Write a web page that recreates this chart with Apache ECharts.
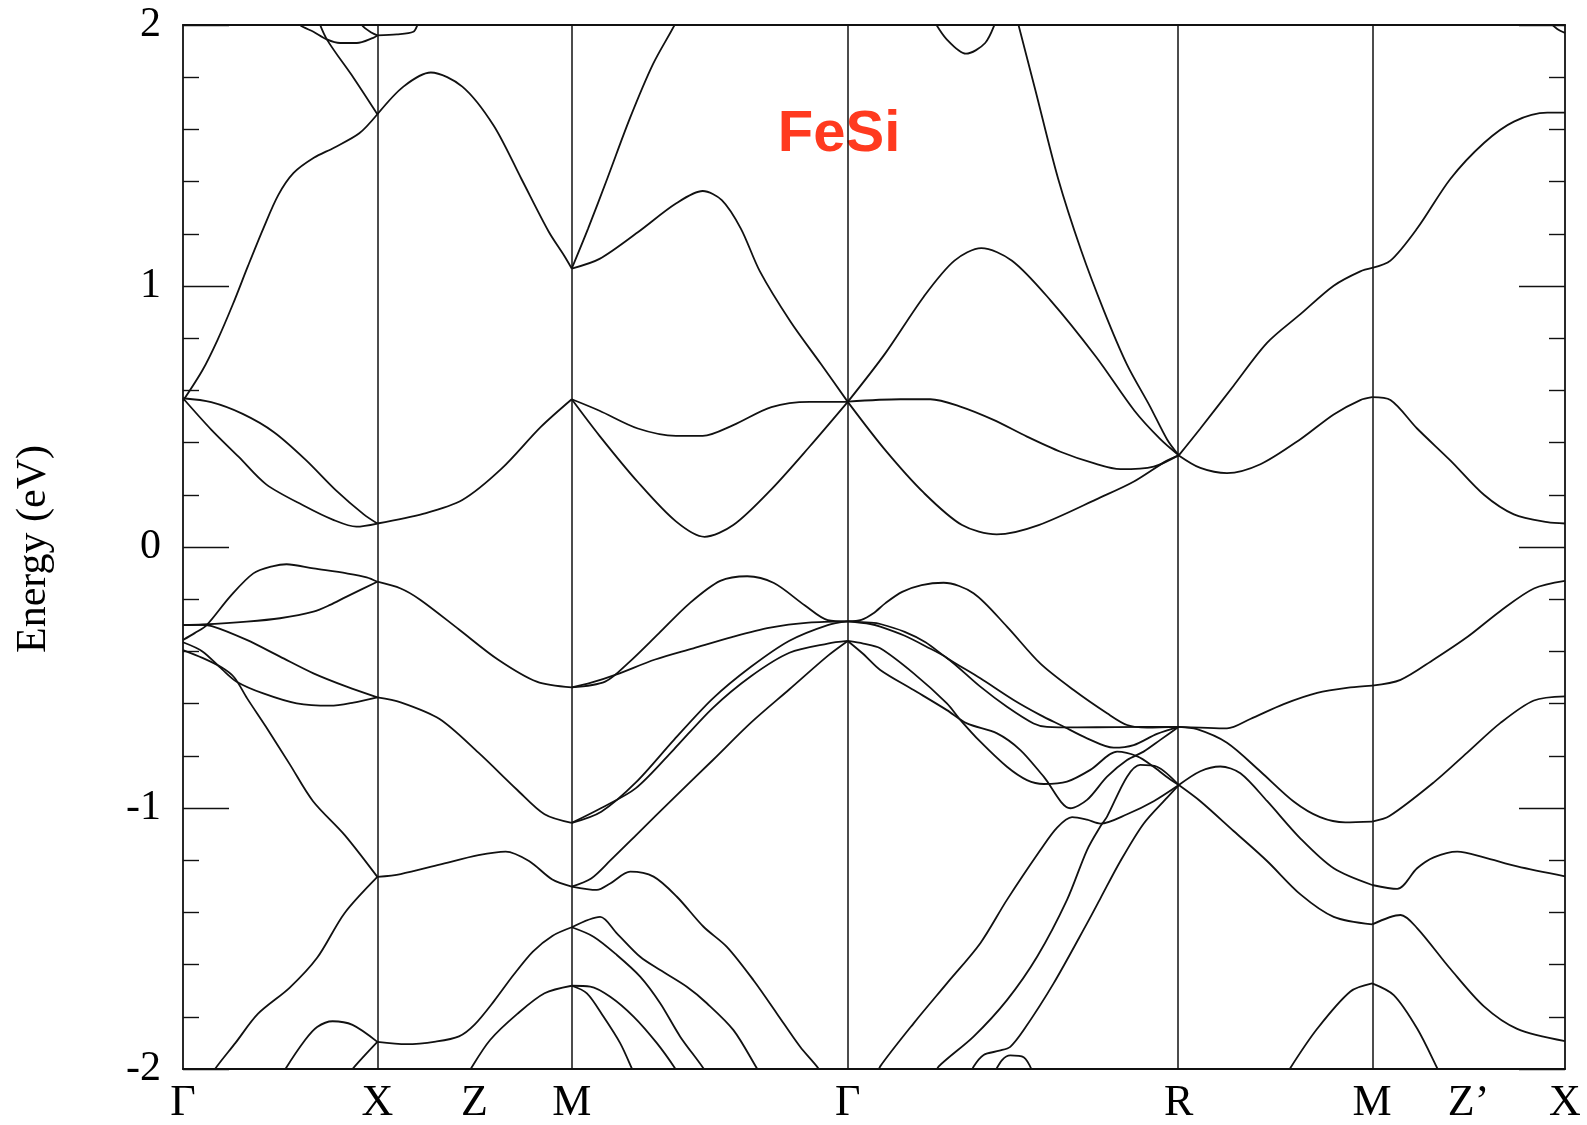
<!DOCTYPE html>
<html>
<head>
<meta charset="utf-8">
<title>FeSi band structure</title>
<script src="https://cdn.jsdelivr.net/npm/echarts@6/dist/echarts.min.js"></script>
<style>
  html, body { margin: 0; padding: 0; background: #fff; }
  #chart { width: 1587px; height: 1125px; }
</style>
</head>
<body>
<div id="chart"></div>
<script>
// High-symmetry points along the k-path (distance in units of 2π/a)
const kPoints = [0, 1.0, 2.0, 3.42, 5.123, 6.118, 7.11];
const kLabelPositions = [0, 1.0, 1.5, 2.0, 3.42, 5.123, 6.118, 6.614, 7.11];
const kLabels = ['Γ', 'X', 'Z', 'M', 'Γ', 'R', 'M', 'Z’', 'X'];
const energyTicks = [-2, -1, 0, 1, 2];

// ---- Γ → X ----
const gxT1 = [[0,0.56],[0.1,0.677],[0.178,0.794],[0.256,0.929],[0.334,1.076],[0.413,1.22],[0.49,1.348],[0.569,1.433],[0.673,1.491],[0.777,1.53],[0.907,1.585],[1.0,1.658]];
const gxTopA = [[0.58,2.03],[0.602,2.0],[0.671,1.974],[0.74,1.945],[0.808,1.931],[0.894,1.931],[0.979,1.951],[1.0,1.96]];
const gxTopB = [[0.90,2.04],[0.92,2.0],[0.971,1.97],[1.0,1.96]];
const gxTopC = [[0.69,2.03],[0.74,1.945],[0.877,1.798],[1.0,1.658]];
const gxC1 = [[0,0.57],[0.145,0.555],[0.307,0.51],[0.468,0.44],[0.63,0.335],[0.79,0.215],[0.93,0.125],[1.0,0.09]];
const gxC2 = [[0,0.57],[0.145,0.45],[0.287,0.345],[0.428,0.24],[0.63,0.155],[0.77,0.105],[0.892,0.078],[1.0,0.09]];
const gxV1 = [[0,-0.356],[0.06,-0.33],[0.122,-0.299],[0.242,-0.19],[0.362,-0.101],[0.465,-0.073],[0.533,-0.066],[0.671,-0.082],[0.842,-0.101],[0.945,-0.116],[1.0,-0.133]];
const gxV2 = [[0,-0.299],[0.1,-0.297],[0.328,-0.286],[0.499,-0.273],[0.671,-0.248],[0.757,-0.222],[0.842,-0.19],[1.0,-0.133]];
const gxV3 = [[0,-0.299],[0.07,-0.298],[0.148,-0.303],[0.328,-0.356],[0.499,-0.42],[0.671,-0.484],[0.842,-0.535],[1.0,-0.576]];
const gxV4 = [[0,-0.365],[0.1,-0.40],[0.2,-0.468],[0.276,-0.516],[0.413,-0.561],[0.585,-0.599],[0.757,-0.608],[0.877,-0.596],[1.0,-0.576]];
const gxV5 = [[0,-0.395],[0.1,-0.425],[0.2,-0.462],[0.264,-0.5],[0.33,-0.58],[0.426,-0.688],[0.548,-0.831],[0.669,-0.974],[0.831,-1.103],[1.0,-1.264]];
const gxV6 = [[0.15,-2.03],[0.162,-2.003],[0.27,-1.9],[0.385,-1.789],[0.548,-1.689],[0.69,-1.574],[0.831,-1.403],[1.0,-1.264]];
const gxV7 = [[0.51,-2.03],[0.527,-2.0],[0.628,-1.889],[0.69,-1.839],[0.77,-1.817],[0.872,-1.831],[1.0,-1.896]];
const gxV8 = [[0.86,-2.02],[0.872,-2.0],[1.0,-1.896]];

// ---- X → M ----
const xmU1 = [[1.0,1.658],[1.134,1.764],[1.275,1.818],[1.437,1.764],[1.598,1.615],[1.74,1.412],[1.881,1.209],[1.962,1.115],[2.0,1.067]];
const xmTop = [[1.0,1.96],[1.1,1.964],[1.185,1.974],[1.206,2.0],[1.22,2.03]];
const xmC = [[1.0,0.09],[1.235,0.127],[1.437,0.18],[1.639,0.3],[1.841,0.46],[2.0,0.566]];
const xmV1 = [[1.0,-0.133],[1.12,-0.159],[1.22,-0.202],[1.42,-0.316],[1.62,-0.431],[1.82,-0.516],[2.0,-0.538]];
const xmV2 = [[1.0,-0.576],[1.12,-0.595],[1.32,-0.659],[1.52,-0.788],[1.72,-0.931],[1.86,-1.024],[2.0,-1.057]];
const xmV3 = [[1.0,-1.264],[1.12,-1.253],[1.32,-1.217],[1.52,-1.181],[1.66,-1.167],[1.78,-1.203],[1.9,-1.274],[2.0,-1.301]];
const xmV4 = [[1.0,-1.896],[1.15,-1.905],[1.3,-1.895],[1.42,-1.875],[1.5,-1.83],[1.6,-1.74],[1.7,-1.64],[1.8,-1.55],[1.9,-1.49],[2.0,-1.457]];
const xmV5 = [[1.47,-2.02],[1.48,-2.0],[1.58,-1.889],[1.72,-1.789],[1.86,-1.71],[2.0,-1.681]];

// ---- M → Γ ----
const mgU1 = [[2.0,1.067],[2.143,1.104],[2.34,1.206],[2.536,1.316],[2.674,1.364],[2.772,1.329],[2.87,1.22],[2.968,1.056],[3.125,0.864],[3.283,0.7],[3.42,0.556]];
const mgU2 = [[2.0,1.067],[2.084,1.22],[2.183,1.412],[2.3,1.644],[2.418,1.85],[2.536,2.01],[2.56,2.06]];
const mgC1 = [[2.0,0.566],[2.143,0.522],[2.34,0.454],[2.536,0.426],[2.674,0.426],[2.831,0.467],[3.027,0.536],[3.224,0.556],[3.42,0.556]];
const mgC2 = [[2.0,0.566],[2.143,0.426],[2.34,0.249],[2.536,0.098],[2.683,0.039],[2.831,0.084],[3.027,0.221],[3.224,0.385],[3.42,0.556]];
const mgV1 = [[2.0,-0.538],[2.172,-0.516],[2.29,-0.445],[2.448,-0.331],[2.606,-0.216],[2.764,-0.13],[2.903,-0.112],[3.04,-0.138],[3.198,-0.223],[3.317,-0.28],[3.42,-0.285]];
const mgV2 = [[2.0,-0.538],[2.1,-0.52],[2.231,-0.488],[2.429,-0.431],[2.626,-0.388],[2.824,-0.345],[3.021,-0.309],[3.218,-0.29],[3.42,-0.285]];
const mgV3 = [[2.0,-1.057],[2.152,-1.014],[2.33,-0.902],[2.527,-0.738],[2.725,-0.581],[2.922,-0.459],[3.12,-0.359],[3.317,-0.299],[3.42,-0.285]];
const mgV4 = [[2.0,-1.057],[2.152,-1.0],[2.33,-0.924],[2.527,-0.774],[2.725,-0.617],[2.922,-0.495],[3.12,-0.405],[3.317,-0.37],[3.42,-0.36]];
const mgV5 = [[2.0,-1.301],[2.1,-1.27],[2.2,-1.2],[2.33,-1.105],[2.527,-0.96],[2.725,-0.817],[2.922,-0.673],[3.12,-0.545],[3.317,-0.417],[3.42,-0.36]];
const mgV6 = [[2.0,-1.301],[2.129,-1.314],[2.198,-1.289],[2.301,-1.244],[2.421,-1.263],[2.541,-1.34],[2.678,-1.455],[2.798,-1.532],[2.935,-1.66],[3.055,-1.787],[3.175,-1.915],[3.269,-1.998],[3.28,-2.02]];
const mgV7 = [[2.0,-1.457],[2.146,-1.417],[2.232,-1.48],[2.352,-1.57],[2.455,-1.621],[2.592,-1.685],[2.695,-1.748],[2.832,-1.851],[2.953,-1.998],[2.97,-2.02]];
const mgV8 = [[2.0,-1.457],[2.112,-1.493],[2.232,-1.563],[2.352,-1.646],[2.455,-1.748],[2.558,-1.876],[2.678,-1.998],[2.69,-2.02]];
const mgV9 = [[2.0,-1.681],[2.095,-1.684],[2.198,-1.723],[2.318,-1.799],[2.438,-1.901],[2.532,-1.998],[2.545,-2.02]];
const mgV10 = [[2.0,-1.681],[2.078,-1.71],[2.163,-1.799],[2.249,-1.901],[2.309,-1.998],[2.32,-2.02]];

// ---- Γ → R ----
const grU1 = [[3.42,0.556],[3.612,0.741],[3.812,0.96],[3.969,1.097],[4.107,1.145],[4.265,1.097],[4.462,0.946],[4.698,0.728],[4.895,0.522],[5.028,0.413],[5.123,0.351]];
const grU2 = [[3.42,0.557],[3.69,0.566],[3.845,0.566],[3.999,0.538],[4.17,0.487],[4.342,0.423],[4.514,0.365],[4.685,0.321],[4.823,0.298],[4.994,0.308],[5.123,0.352]];
const grU3 = [[3.42,0.556],[3.612,0.372],[3.812,0.207],[4.008,0.084],[4.186,0.048],[4.402,0.084],[4.72,0.19],[4.89,0.25],[5.06,0.33],[5.123,0.351]];
const grU4 = [[4.29,2.03],[4.295,2.01],[4.384,1.754],[4.502,1.412],[4.62,1.138],[4.738,0.905],[4.856,0.70],[4.974,0.54],[5.063,0.412],[5.123,0.351]];
const grTop = [[3.85,2.04],[3.86,2.02],[3.929,1.945],[4.028,1.89],[4.127,1.931],[4.186,2.02],[4.195,2.04]];
const grV1 = [[3.42,-0.285],[3.49,-0.279],[3.55,-0.255],[3.614,-0.215],[3.70,-0.172],[3.80,-0.146],[3.913,-0.137],[4.067,-0.177],[4.239,-0.305],[4.41,-0.446],[4.582,-0.548],[4.754,-0.637],[4.857,-0.682],[4.96,-0.692],[5.123,-0.689]];
const grV2 = [[3.42,-0.285],[3.536,-0.29],[3.587,-0.295],[3.713,-0.325],[3.82,-0.365],[3.93,-0.425],[4.102,-0.503],[4.273,-0.586],[4.411,-0.644],[4.522,-0.685],[4.651,-0.733],[4.788,-0.769],[4.891,-0.759],[5.011,-0.716],[5.123,-0.689]];
const grV3 = [[3.42,-0.285],[3.536,-0.295],[3.587,-0.305],[3.713,-0.34],[3.82,-0.38],[3.93,-0.425],[4.102,-0.535],[4.239,-0.612],[4.376,-0.676],[4.445,-0.689],[4.6,-0.691],[4.8,-0.69],[5.123,-0.689]];
const grV4 = [[3.42,-0.36],[3.5,-0.37],[3.587,-0.388],[3.759,-0.484],[3.93,-0.599],[4.0,-0.663],[4.102,-0.746],[4.239,-0.842],[4.342,-0.893],[4.428,-0.908],[4.548,-0.899],[4.668,-0.854],[4.806,-0.784],[4.91,-0.802],[4.99,-0.84],[5.06,-0.88],[5.123,-0.912]];
const grV5 = [[3.42,-0.36],[3.5,-0.41],[3.587,-0.471],[3.759,-0.548],[3.93,-0.625],[4.033,-0.676],[4.188,-0.714],[4.308,-0.778],[4.428,-0.88],[4.565,-1.001],[4.651,-0.969],[4.754,-0.88],[4.857,-0.816],[4.942,-0.784],[5.028,-0.739],[5.123,-0.689]];
const grV6 = [[3.575,-2.02],[3.587,-1.99],[3.759,-1.825],[3.93,-1.672],[4.102,-1.518],[4.239,-1.352],[4.411,-1.161],[4.497,-1.075],[4.574,-1.035],[4.651,-1.045],[4.72,-1.06],[4.857,-1.024],[4.994,-0.974],[5.123,-0.912]];
const grV7 = [[3.875,-2.02],[3.887,-1.991],[4.067,-1.876],[4.239,-1.736],[4.394,-1.57],[4.548,-1.352],[4.651,-1.161],[4.72,-1.07],[4.754,-1.033],[4.857,-0.88],[4.925,-0.835],[5.011,-0.842],[5.123,-0.912]];
const grV8 = [[4.055,-2.02],[4.067,-1.991],[4.119,-1.946],[4.2,-1.93],[4.256,-1.915],[4.325,-1.851],[4.479,-1.672],[4.651,-1.442],[4.72,-1.346],[4.823,-1.203],[4.942,-1.06],[5.063,-0.96],[5.123,-0.912]];
const grV9 = [[4.17,-2.02],[4.215,-1.965],[4.256,-1.948],[4.325,-1.955],[4.376,-2.02]];

// ---- R → M ----
const rmU1 = [[5.123,0.351],[5.234,0.303],[5.371,0.283],[5.543,0.317],[5.749,0.413],[5.92,0.508],[6.057,0.563],[6.118,0.574]];
const rmU2 = [[5.123,0.351],[5.234,0.454],[5.405,0.618],[5.577,0.782],[5.749,0.892],[5.92,1.001],[6.057,1.056],[6.118,1.069]];
const rmV1 = [[5.123,-0.689],[5.234,-0.692],[5.371,-0.695],[5.491,-0.659],[5.663,-0.602],[5.835,-0.559],[6.006,-0.538],[6.118,-0.531]];
const rmV2 = [[5.123,-0.689],[5.217,-0.698],[5.371,-0.75],[5.543,-0.86],[5.714,-0.975],[5.85,-1.035],[5.98,-1.055],[6.118,-1.052]];
const rmV3 = [[5.123,-0.912],[5.234,-0.859],[5.337,-0.841],[5.44,-0.867],[5.578,-0.974],[5.749,-1.117],[5.92,-1.231],[6.118,-1.295]];
const rmV4 = [[5.123,-0.912],[5.234,-0.974],[5.405,-1.088],[5.577,-1.203],[5.749,-1.331],[5.92,-1.417],[6.118,-1.446]];
const rmV5 = [[5.685,-2.02],[5.697,-1.996],[5.835,-1.846],[6.006,-1.703],[6.118,-1.672]];

// ---- M → X ----
const mxU1 = [[6.118,1.069],[6.212,1.097],[6.349,1.22],[6.521,1.411],[6.693,1.548],[6.847,1.63],[7.019,1.664],[7.11,1.664]];
const mxC = [[6.118,0.574],[6.212,0.563],[6.349,0.454],[6.521,0.331],[6.693,0.2],[6.847,0.125],[7.019,0.095],[7.11,0.09]];
const mxV1 = [[6.118,-0.531],[6.264,-0.509],[6.435,-0.431],[6.607,-0.345],[6.778,-0.245],[6.95,-0.159],[7.11,-0.13]];
const mxV2 = [[6.118,-1.052],[6.207,-1.031],[6.435,-0.902],[6.607,-0.788],[6.778,-0.674],[6.95,-0.588],[7.11,-0.572]];
const mxV3 = [[6.118,-1.295],[6.247,-1.31],[6.349,-1.231],[6.435,-1.189],[6.556,-1.167],[6.693,-1.189],[6.864,-1.224],[7.11,-1.262]];
const mxV4 = [[6.118,-1.446],[6.264,-1.41],[6.349,-1.46],[6.521,-1.617],[6.693,-1.76],[6.864,-1.846],[7.11,-1.893]];
const mxV5 = [[6.118,-1.672],[6.229,-1.717],[6.35,-1.846],[6.452,-1.996],[6.465,-2.02]];
const mxTop = [[7.01,2.04],[7.02,2.02],[7.07,1.985],[7.11,1.97]];

const bands = [
  gxT1, gxTopA, gxTopB, gxTopC, gxC1, gxC2, gxV1, gxV2, gxV3, gxV4, gxV5, gxV6, gxV7, gxV8,
  xmU1, xmTop, xmC, xmV1, xmV2, xmV3, xmV4, xmV5,
  mgU1, mgU2, mgC1, mgC2, mgV1, mgV2, mgV3, mgV4, mgV5, mgV6, mgV7, mgV8, mgV9, mgV10,
  grU1, grU2, grU3, grU4, grTop, grV1, grV2, grV3, grV4, grV5, grV6, grV7, grV8, grV9,
  rmU1, rmU2, rmV1, rmV2, rmV3, rmV4, rmV5,
  mxU1, mxC, mxV1, mxV2, mxV3, mxV4, mxV5, mxTop
];

const serif = '"Liberation Serif", "DejaVu Serif", "Times New Roman", serif';
const ink = '#111';

const chart = echarts.init(document.getElementById('chart'), null, { renderer: 'canvas' });

const bandSeries = bands.map(function (d) {
  return {
    type: 'line',
    data: d,
    smooth: 0.3,
    symbol: 'none',
    silent: true,
    clip: true,
    lineStyle: { color: ink, width: 1.8 }
  };
});

// vertical guides at the interior high-symmetry points
bandSeries.push({
  type: 'line',
  data: [],
  silent: true,
  markLine: {
    silent: true,
    symbol: ['none', 'none'],
    label: { show: false },
    lineStyle: { color: ink, type: 'solid', width: 1.5 },
    data: kPoints.slice(1, -1).map(function (k) { return { xAxis: k }; })
  }
});

function kLabel(v) {
  for (let i = 0; i < kLabelPositions.length; i++) {
    if (Math.abs(kLabelPositions[i] - v) < 1e-6) return kLabels[i];
  }
  return '';
}

// energy axis on either side of the frame, ticks pointing inward
function energyAxis(side, withLabels) {
  return {
    type: 'value',
    position: side,
    offset: 0,
    min: energyTicks[0],
    max: energyTicks[energyTicks.length - 1],
    interval: 1,
    splitLine: { show: false },
    axisLine: { show: true, onZero: false, lineStyle: { color: ink, width: 1.8 } },
    axisTick: { show: true, inside: true, length: 46, lineStyle: { color: ink, width: 1.4 } },
    minorTick: { show: true, splitNumber: 5, length: 16, lineStyle: { color: ink, width: 1.4 } },
    minorSplitLine: { show: false },
    axisLabel: withLabels ? {
      show: true,
      margin: 22,
      color: '#000',
      fontFamily: serif,
      fontSize: 42,
      formatter: function (v) { return String(v); }
    } : { show: false }
  };
}

chart.setOption({
  animation: false,
  backgroundColor: '#ffffff',
  grid: { left: 183, right: 22, top: 25, bottom: 56, containLabel: false },
  xAxis: [
    {
      type: 'value',
      min: kPoints[0],
      max: kPoints[kPoints.length - 1],
      position: 'bottom',
      splitLine: { show: false },
      axisLine: { show: true, onZero: false, lineStyle: { color: ink, width: 2 } },
      axisTick: { show: false },
      axisLabel: {
        show: true,
        customValues: kLabelPositions,
        formatter: kLabel,
        margin: 12,
        color: '#000',
        fontFamily: serif,
        fontSize: 44,
        showMinLabel: true,
        showMaxLabel: true
      }
    },
    {
      type: 'value',
      min: kPoints[0],
      max: kPoints[kPoints.length - 1],
      position: 'top',
      splitLine: { show: false },
      axisLine: { show: true, onZero: false, lineStyle: { color: ink, width: 1.8 } },
      axisTick: { show: false },
      axisLabel: { show: false }
    }
  ],
  yAxis: [energyAxis('left', true), energyAxis('right', false)],
  series: bandSeries,
  graphic: [
    {
      type: 'text',
      x: 34,
      y: 549,
      rotation: Math.PI / 2,
      style: {
        text: 'Energy (eV)',
        font: '42px ' + serif,
        fill: '#000',
        align: 'center',
        verticalAlign: 'middle'
      }
    },
    {
      type: 'text',
      x: 839,
      y: 135,
      style: {
        text: 'FeSi',
        font: 'bold 58px "Liberation Sans", Arial, sans-serif',
        fill: '#ff3a1f',
        align: 'center',
        verticalAlign: 'middle'
      }
    }
  ]
});
</script>
</body>
</html>
